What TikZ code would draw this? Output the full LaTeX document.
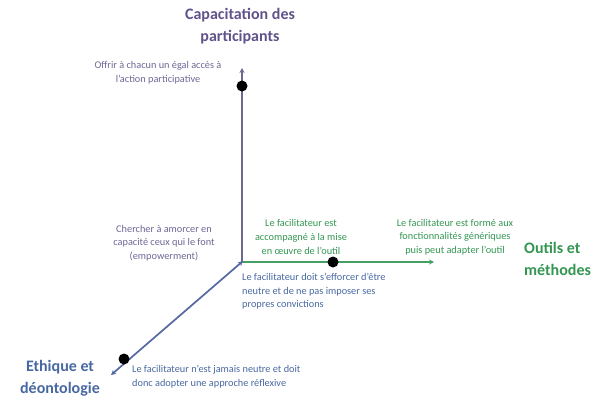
\documentclass[tikz,border=0pt]{standalone}
\usepackage{fontspec}
\setmainfont{Carlito}
\usetikzlibrary{arrows.meta}
\definecolor{purpT}{RGB}{96,82,138}
\definecolor{purpS}{RGB}{112,102,150}
\definecolor{purpL}{RGB}{112,104,140}
\definecolor{grnT}{RGB}{52,150,82}
\definecolor{grnL}{RGB}{70,160,100}
\definecolor{bluT}{RGB}{72,104,162}
\definecolor{bluL}{RGB}{84,104,162}
\tikzset{
  x=1pt, y=-1pt,
  title/.style={font=\fontsize{16}{21.5}\selectfont\bfseries, align=center, inner sep=0pt},
  small/.style={font=\fontsize{10.3}{13.6}\selectfont, inner sep=0pt},
  axis/.style={line width=1.7pt, -{Stealth[length=5pt,width=5pt]}},
  dot/.style={circle, fill=black, minimum size=11pt, inner sep=0pt}
}
\begin{document}
\begin{tikzpicture}
\useasboundingbox (0,0) rectangle (600,397);
\coordinate (O) at (243,261);
\coordinate (T) at (242,68);
\coordinate (R) at (434,262);
\coordinate (L) at (111,375);
\draw[axis, purpL] (242,262) -- (T);
\draw[axis, grnL] (242,262) -- (R);
\draw[axis, bluL, {Stealth[length=5pt,width=5pt]}-{Stealth[length=5pt,width=5pt]}] (O) -- (L);
\node[dot] (d1) at (242,86) {};
\node[dot] (d2) at (333,262) {};
\node[dot] (d3) at (124,359) {};
\node[title, text=purpT] (cap) at (240,26) {Capacitation des\\participants};
\node[title, text=grnT, align=left, anchor=west] (out) at (524,259) {Outils et\\méthodes};
\node[title, text=bluT] (eth) at (60,378) {Ethique et\\déontologie};
\node[small, text=purpS, align=center] (t1) at (158,73) {Offrir à chacun un égal accès à\\l'action participative};
\node[small, text=purpS, align=center] (t2) at (164,243) {Chercher à amorcer en\\capacité ceux qui le font\\(empowerment)};
\node[small, text=grnT, align=center] (t3) at (301,237) {Le facilitateur est\\accompagné à la mise\\en œuvre de l'outil};
\node[small, text=grnT, align=center] (t4) at (455,237) {Le facilitateur est formé aux\\fonctionnalités génériques\\puis peut adapter l'outil};
\node[small, text=bluT, align=left, anchor=north west] (t5) at (242,273) {Le facilitateur doit s'efforcer d'être\\neutre et de ne pas imposer ses\\propres convictions};
\node[small, text=bluT, align=left, anchor=north west] (t6) at (132,365) {Le facilitateur n'est jamais neutre et doit\\donc adopter une approche réflexive};
\end{tikzpicture}
\end{document}
